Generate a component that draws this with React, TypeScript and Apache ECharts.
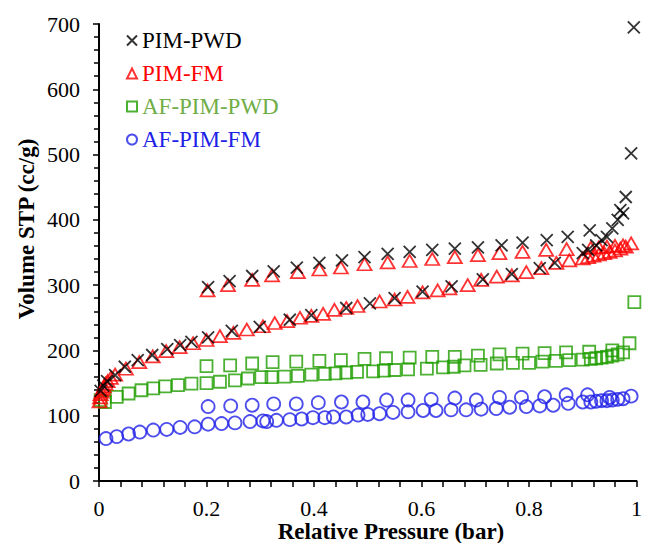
import React, { useEffect, useRef } from "react";
import * as echarts from "echarts";

// Tick settings
const xTicks = [0, 0.2, 0.4, 0.6, 0.8, 1];
const yTicks = [0, 100, 200, 300, 400, 500, 600, 700];

const seriesNames = ["PIM-PWD", "PIM-FM", "AF-PIM-PWD", "AF-PIM-FM"];

// PIM-PWD (crosses)
const pimPwdAds: number[][] = [
  [0.003, 138], [0.008, 146], [0.015, 153], [0.03, 162], [0.048, 175], [0.072, 185], [0.099, 193],
  [0.127, 202], [0.151, 208], [0.172, 213], [0.203, 220], [0.247, 230], [0.299, 236],
  [0.355, 247], [0.395, 254], [0.46, 265], [0.504, 272], [0.55, 280], [0.602, 290],
  [0.656, 298], [0.714, 309], [0.768, 317], [0.82, 326], [0.848, 334], [0.9, 349],
  [0.91, 354], [0.925, 361], [0.935, 369], [0.945, 374], [0.955, 387], [0.965, 400],
  [0.975, 410], [0.97, 415], [0.98, 435], [0.99, 502], [0.995, 695],
];
const pimPwdDes: number[][] = [
  [0.203, 297], [0.243, 306], [0.285, 314], [0.325, 321], [0.368, 327], [0.41, 334],
  [0.452, 338], [0.494, 343], [0.537, 348], [0.578, 351], [0.62, 354], [0.662, 356],
  [0.705, 358], [0.749, 361], [0.788, 365], [0.833, 369], [0.872, 374], [0.913, 384],
];

// PIM-FM (triangles)
const pimFmAds: number[][] = [
  [0.001, 122], [0.002, 128], [0.003, 133], [0.005, 137], [0.007, 141], [0.009, 145],
  [0.012, 149], [0.016, 153], [0.022, 158], [0.03, 163], [0.05, 172], [0.075, 182],
  [0.1, 191], [0.125, 199], [0.15, 205], [0.175, 211], [0.2, 216], [0.225, 222],
  [0.25, 227], [0.275, 232], [0.305, 237], [0.327, 242], [0.35, 245], [0.374, 250],
  [0.395, 253], [0.417, 256], [0.438, 262], [0.46, 265], [0.481, 268], [0.522, 275],
  [0.55, 278], [0.574, 282], [0.602, 289], [0.63, 292], [0.652, 295], [0.686, 300],
  [0.711, 308], [0.74, 313], [0.768, 315], [0.795, 320], [0.823, 326], [0.851, 334],
  [0.875, 338], [0.9, 341], [0.91, 343], [0.92, 345], [0.93, 347], [0.94, 349],
  [0.95, 351], [0.96, 353], [0.97, 356], [0.98, 359], [0.99, 364],
];
const pimFmDes: number[][] = [
  [0.202, 292], [0.24, 300], [0.285, 308], [0.322, 315], [0.37, 320], [0.41, 324],
  [0.45, 327], [0.494, 332], [0.537, 335], [0.578, 337], [0.62, 340], [0.662, 343],
  [0.705, 346], [0.745, 349], [0.788, 351], [0.832, 354], [0.87, 355], [0.915, 357],
  [0.93, 358], [0.945, 359], [0.96, 360], [0.975, 361],
];

// AF-PIM-PWD (squares)
const afPwdAds: number[][] = [
  [0.003, 124], [0.011, 121], [0.033, 129], [0.055, 134], [0.079, 139], [0.101, 142],
  [0.123, 145], [0.147, 147], [0.172, 149], [0.2, 150], [0.225, 152], [0.253, 154],
  [0.277, 157], [0.302, 159], [0.321, 159], [0.345, 160], [0.37, 161], [0.395, 163],
  [0.42, 164], [0.44, 165], [0.46, 166], [0.48, 167], [0.51, 168], [0.53, 169],
  [0.55, 170], [0.575, 171], [0.61, 172], [0.64, 174], [0.66, 175], [0.68, 177],
  [0.71, 178], [0.74, 180], [0.77, 181], [0.8, 181], [0.825, 183], [0.85, 184],
  [0.875, 185], [0.9, 186], [0.915, 187], [0.925, 188], [0.935, 189], [0.945, 190],
  [0.955, 192], [0.965, 194], [0.975, 197], [0.987, 211], [0.996, 274],
];
const afPwdDes: number[][] = [
  [0.2, 176], [0.244, 177], [0.285, 180], [0.323, 182], [0.367, 183], [0.41, 184],
  [0.45, 185], [0.494, 187], [0.534, 188], [0.578, 189], [0.62, 190], [0.662, 190],
  [0.705, 192], [0.745, 194], [0.788, 195], [0.829, 196], [0.869, 197], [0.912, 198],
  [0.955, 200],
];

// AF-PIM-FM (circles)
const afFmAds: number[][] = [
  [0.013, 65], [0.033, 68], [0.055, 72], [0.076, 75], [0.101, 78], [0.126, 79],
  [0.151, 82], [0.178, 83], [0.203, 87], [0.228, 88], [0.253, 89], [0.281, 91],
  [0.305, 92], [0.312, 91], [0.33, 93], [0.355, 94], [0.377, 95], [0.398, 97],
  [0.42, 97], [0.436, 98], [0.46, 98], [0.482, 101], [0.5, 102], [0.522, 103],
  [0.547, 105], [0.575, 106], [0.603, 108], [0.627, 108], [0.655, 109], [0.683, 109],
  [0.711, 110], [0.739, 111], [0.764, 113], [0.795, 114], [0.82, 115], [0.845, 116],
  [0.873, 119], [0.9, 121], [0.915, 121], [0.925, 122], [0.935, 123], [0.945, 123],
  [0.955, 124], [0.965, 125], [0.975, 126], [0.99, 130],
];
const afFmDes: number[][] = [
  [0.203, 114], [0.245, 115], [0.285, 116], [0.325, 118], [0.367, 118], [0.408, 120],
  [0.451, 121], [0.491, 121], [0.535, 124], [0.575, 124], [0.618, 125], [0.662, 127],
  [0.702, 124], [0.745, 128], [0.786, 128], [0.829, 129], [0.869, 132], [0.909, 132],
  [0.95, 128],
];

const FONT = '"Liberation Serif", "Times New Roman", serif';
const CROSS = "path://M0,0L10,10M0,10L10,0";

export default function App() {
  const ref = useRef<HTMLDivElement>(null);
  useEffect(() => {
    if (!ref.current) return;
    const chart = echarts.init(ref.current, undefined, { renderer: "svg" });
    const hollow = (c: string) => ({ color: "rgba(0,0,0,0)", borderColor: c, borderWidth: 1.8 });
    chart.setOption({
      animation: false,
      backgroundColor: "#ffffff",
      textStyle: { fontFamily: FONT },
      grid: { left: 99, right: 8, top: 24, bottom: 62, containLabel: false },
      legend: {
        orient: "vertical",
        left: 121,
        top: 24,
        itemGap: 10,
        itemWidth: 10,
        itemHeight: 10,
        textStyle: { fontFamily: FONT, fontSize: 23 },
        data: [
          { name: seriesNames[0], textStyle: { color: "#000000" } },
          { name: seriesNames[1], textStyle: { color: "#FF0000" } },
          { name: seriesNames[2], textStyle: { color: "#70AD47" } },
          { name: seriesNames[3], textStyle: { color: "#2020E8" } },
        ],
      },
      xAxis: {
        type: "value",
        min: xTicks[0],
        max: xTicks[xTicks.length - 1],
        interval: 0.2,
        axisLine: { show: true, lineStyle: { color: "#000", width: 2 } },
        axisTick: { show: true, inside: false, length: 6, lineStyle: { color: "#000", width: 1.5 } },
        minorTick: { show: true, splitNumber: 5, length: 6, lineStyle: { color: "#000", width: 1.5 } },
        splitLine: { show: false },
        axisLabel: { color: "#000", fontSize: 22, fontFamily: FONT, margin: 16 },
      },
      yAxis: {
        type: "value",
        min: yTicks[0],
        max: yTicks[yTicks.length - 1],
        interval: 100,
        axisLine: { show: true, lineStyle: { color: "#000", width: 2 } },
        axisTick: { show: true, inside: false, length: 6, lineStyle: { color: "#000", width: 1.5 } },
        minorTick: { show: true, splitNumber: 5, length: 5, lineStyle: { color: "#000", width: 1.5 } },
        splitLine: { show: false },
        axisLabel: { color: "#000", fontSize: 22, fontFamily: FONT, margin: 19 },
      },
      graphic: [
        {
          type: "text",
          x: 391,
          y: 531,
          style: {
            text: "Relative Pressure (bar)",
            font: `bold 23px ${FONT}`,
            fill: "#000",
            textAlign: "center",
            textVerticalAlign: "middle",
          },
        },
        {
          type: "text",
          x: 26,
          y: 229,
          rotation: Math.PI / 2,
          style: {
            text: "Volume STP (cc/g)",
            font: `bold 23px ${FONT}`,
            fill: "#000",
            textAlign: "center",
            textVerticalAlign: "middle",
          },
        },
      ],
      series: [
        {
          name: seriesNames[0],
          type: "scatter",
          symbol: CROSS,
          symbolSize: 12,
          itemStyle: { color: "#000", borderColor: "#000", borderWidth: 1.8 },
          data: [...pimPwdAds, ...pimPwdDes],
          z: 4,
        },
        {
          name: seriesNames[1],
          type: "scatter",
          symbol: "triangle",
          symbolSize: [14, 12],
          itemStyle: hollow("#FF0000"),
          data: [...pimFmAds, ...pimFmDes],
          z: 3,
        },
        {
          name: seriesNames[2],
          type: "scatter",
          symbol: "rect",
          symbolSize: 12,
          itemStyle: hollow("#1F9E00"),
          data: [...afPwdAds, ...afPwdDes],
          z: 2,
        },
        {
          name: seriesNames[3],
          type: "scatter",
          symbol: "circle",
          symbolSize: 13,
          itemStyle: hollow("#2020E8"),
          data: [...afFmAds, ...afFmDes],
          z: 2,
        },
      ],
    });
    return () => chart.dispose();
  }, []);
  return (
    <div
      ref={ref}
      style={{ position: "absolute", left: 0, top: 0, width: 645, height: 543, background: "#fff" }}
    />
  );
}
